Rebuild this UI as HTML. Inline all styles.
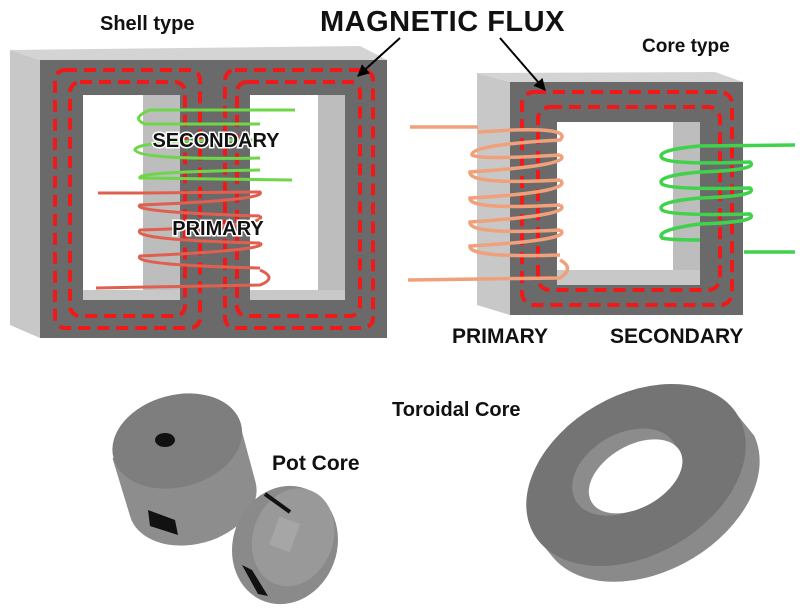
<!DOCTYPE html>
<html><head><meta charset="utf-8"><style>
html,body{margin:0;padding:0;background:#fff;width:800px;height:612px;overflow:hidden;}
svg{display:block;}
text{font-family:"Liberation Sans",Arial,sans-serif;font-weight:bold;fill:#111;}
</style></head><body>
<svg width="800" height="612" viewBox="0 0 800 612" xmlns="http://www.w3.org/2000/svg">
<defs>
<marker id="ah" viewBox="0 0 10 10" refX="9" refY="5" markerWidth="6" markerHeight="6" orient="auto"><path d="M0,0 L10,5 L0,10 z" fill="#000"/></marker>
</defs>

<!-- SHELL TYPE -->
<polygon points="10,50 40,60 40,338 10,325" fill="#c8c8c8"/>
<polygon points="10,50 40,60 387,60 360,46" fill="#d4d4d4"/>
<rect x="40" y="60" width="347" height="278" fill="#6a6a6a"/>
<rect x="83" y="95" width="97" height="205" fill="#fff"/>
<rect x="143" y="95" width="37" height="205" fill="#bdbdbd"/>
<rect x="83" y="290" width="97" height="10" fill="#c8c8c8"/>
<rect x="250" y="95" width="95" height="205" fill="#fff"/>
<rect x="318" y="95" width="27" height="205" fill="#bdbdbd"/>
<rect x="250" y="290" width="95" height="10" fill="#c8c8c8"/>
<g fill="none" stroke="#f01818" stroke-width="4" stroke-dasharray="12,7">
<rect x="55" y="70" width="145" height="258" rx="10"/>
<rect x="70" y="82" width="115" height="234" rx="10"/>
<rect x="225" y="70" width="148" height="258" rx="10"/>
<rect x="237" y="82" width="123" height="234" rx="10"/>
</g>
<g fill="none" stroke="#6fd64a" stroke-width="3">
<path d="M295,110 L150,110 Q130,118 145,124 L260,124"/>
<path d="M260,140 Q135,140 135,150 Q140,160 260,158"/>
<path d="M260,170 Q135,172 140,178 L292,180"/>
</g>
<g fill="none" stroke="#e06050" stroke-width="3">
<path d="M98,193 L145,193"/>
<path d="M145,193 L260,192 Q268,200 140,205 Q130,212 260,216"/>
<path d="M260,216 Q270,226 140,230 Q130,240 260,243"/>
<path d="M260,243 Q272,250 140,256 Q130,265 260,268"/>
<path d="M96,288 L260,285 Q278,278 260,270"/>
</g>
<text x="216" y="147" font-size="20" text-anchor="middle" stroke="#fff" stroke-width="3" paint-order="stroke">SECONDARY</text>
<text x="218" y="235" font-size="20" text-anchor="middle" stroke="#fff" stroke-width="3" paint-order="stroke">PRIMARY</text>
<text x="100" y="30" font-size="20">Shell type</text>
<text x="320" y="31" font-size="29" letter-spacing="0.5">MAGNETIC FLUX</text>

<!-- CORE TYPE -->
<text x="642" y="52" font-size="19">Core type</text>
<polygon points="477,73 510,82 510,315 477,305" fill="#c8c8c8"/>
<polygon points="477,73 510,82 743,82 715,72" fill="#d4d4d4"/>
<rect x="510" y="82" width="233" height="233" fill="#6a6a6a"/>
<rect x="557" y="122" width="143" height="163" fill="#fff"/>
<rect x="673" y="122" width="27" height="163" fill="#bdbdbd"/>
<rect x="557" y="270" width="143" height="15" fill="#c8c8c8"/>
<g fill="none" stroke="#f01818" stroke-width="4" stroke-dasharray="12,7">
<rect x="522" y="92" width="210" height="213" rx="12"/>
<rect x="538" y="107" width="182" height="183" rx="12"/>
</g>
<g fill="none" stroke="#f0a07a" stroke-width="3.5">
<path d="M410,127 L478,127"/>
<path d="M478,132 Q575,125 560,140 Q470,145 472,155 Q480,160 560,155"/>
<path d="M560,155 Q575,165 470,172 Q468,185 560,180"/>
<path d="M560,180 Q575,192 470,198 Q468,210 560,205"/>
<path d="M560,205 Q575,215 470,222 Q468,235 560,230"/>
<path d="M560,230 Q575,240 470,246 Q468,258 560,255"/>
<path d="M408,280 L560,278 Q575,268 560,260"/>
</g>
<g fill="none" stroke="#3fd24a" stroke-width="3.5">
<path d="M795,145 L700,146 Q655,150 662,158 Q670,165 750,162 Q760,170 700,172 Q655,176 662,184 Q670,190 750,188 Q760,196 700,198 Q655,202 662,210 Q670,216 750,214 Q760,222 700,224 Q655,230 662,238 Q670,240 700,240"/>
<path d="M744,252 L795,252"/>
</g>
<text x="452" y="343" font-size="21">PRIMARY</text>
<text x="610" y="343" font-size="21">SECONDARY</text>

<line x1="400" y1="38" x2="358" y2="76" stroke="#000" stroke-width="2" marker-end="url(#ah)"/>
<line x1="500" y1="38" x2="545" y2="90" stroke="#000" stroke-width="2" marker-end="url(#ah)"/>

<!-- POT CORES -->
<g transform="rotate(-15 185 470)">
<path d="M118,440 L120,500 A65,45 0 0 0 250,500 L250,440 Z" fill="#8d8d8d"/>
<ellipse cx="185" cy="440" rx="66" ry="46" fill="#7e7e7e"/>
</g>
<ellipse cx="165" cy="440" rx="10" ry="7" fill="#111"/>
<polygon points="148,510 175,520 178,535 150,526" fill="#111"/>
<g transform="rotate(20 285 545)">
<ellipse cx="285" cy="545" rx="52" ry="60" fill="#8a8a8a"/>
<ellipse cx="290" cy="535" rx="40" ry="50" fill="#999"/>
<rect x="270" y="520" width="22" height="30" fill="#a6a6a6"/>
</g>
<line x1="265" y1="494" x2="290" y2="512" stroke="#111" stroke-width="4"/>
<polygon points="242,565 252,570 268,596 258,594" fill="#111"/>
<text x="272" y="470" font-size="21">Pot Core</text>

<!-- TOROID -->
<g transform="rotate(-30 636 475)">
<path d="M518,475 L523,505 A118,80 0 0 0 758,500 L754,475 Z" fill="#8a8a8a"/>
<ellipse cx="636" cy="475" rx="118" ry="80" fill="#747474"/>
<ellipse cx="628" cy="467" rx="57" ry="38" fill="#8c8c8c"/>
<ellipse cx="635" cy="476" rx="51" ry="31" fill="#fff"/>
</g>
<text x="392" y="416" font-size="20">Toroidal Core</text>
</svg>
</body></html>
